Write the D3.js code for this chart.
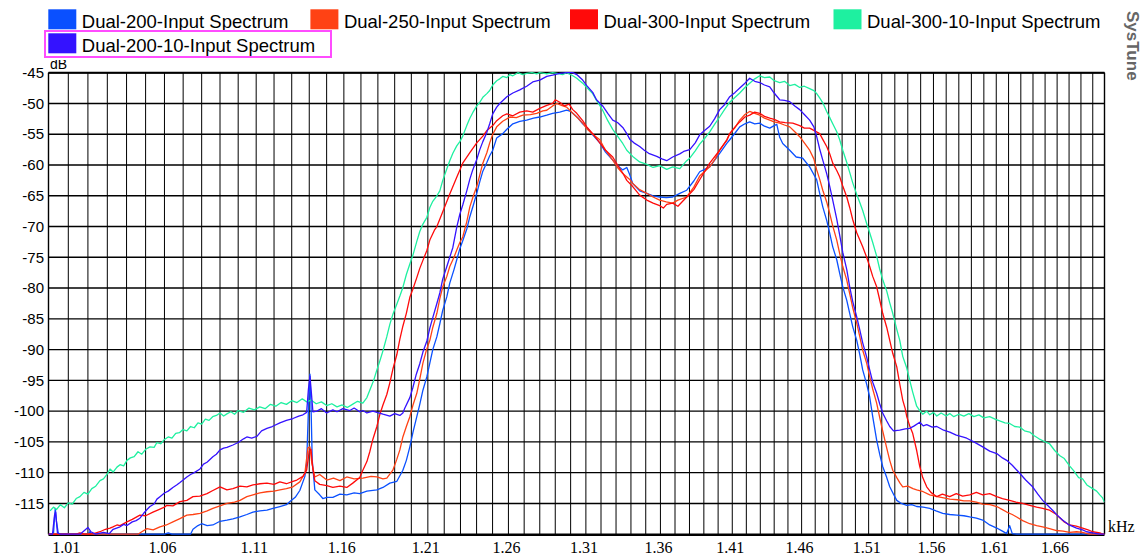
<!DOCTYPE html>
<html><head><meta charset="utf-8">
<script src="https://cdn.jsdelivr.net/npm/d3@7"></script>
<style>body{margin:0;background:#fff}svg{display:block}</style>
</head><body>
<svg id="chart" width="1145" height="557"></svg>
<script>
const seriesNames = ["Dual-200-Input Spectrum","Dual-250-Input Spectrum","Dual-300-Input Spectrum","Dual-300-10-Input Spectrum","Dual-200-10-Input Spectrum"];
const seriesColors = ["#0a50ff","#ff4214","#ff0a0a","#1ef0a0","#3412ff"];

const dual200 = [[1.0000,-120.5],[1.0025,-120.2],[1.0030,-117.5],[1.0034,-115.8],[1.0040,-117.9],[1.0050,-120.3],[1.0100,-120.5],[1.0200,-120.4],[1.0210,-119.6],[1.0220,-120.3],[1.0600,-120.5],[1.0620,-119.8],[1.0640,-120.3],[1.0740,-120.4],[1.0753,-119.2],[1.0780,-118.6],[1.0800,-118.3],[1.0830,-118.6],[1.0861,-118.5],[1.0900,-117.9],[1.0938,-117.7],[1.0971,-117.5],[1.1010,-117.2],[1.1048,-116.8],[1.1082,-116.4],[1.1121,-116.2],[1.1160,-116.1],[1.1194,-115.8],[1.1233,-115.5],[1.1270,-115.2],[1.1290,-114.7],[1.1320,-114.0],[1.1346,-112.9],[1.1375,-110.6],[1.1385,-108.5],[1.1395,-100.0],[1.1404,-94.0],[1.1410,-99.0],[1.1417,-108.0],[1.1432,-112.8],[1.1460,-113.6],[1.1478,-114.2],[1.1501,-114.0],[1.1536,-114.0],[1.1577,-113.5],[1.1617,-113.6],[1.1660,-113.3],[1.1693,-113.4],[1.1735,-113.0],[1.1794,-112.8],[1.1830,-112.4],[1.1871,-111.7],[1.1913,-111.4],[1.1949,-109.6],[1.1970,-108.0],[1.1991,-105.8],[1.2010,-103.4],[1.2033,-100.9],[1.2051,-98.9],[1.2070,-96.6],[1.2094,-94.4],[1.2112,-92.2],[1.2130,-90.0],[1.2155,-87.9],[1.2173,-85.8],[1.2191,-83.6],[1.2216,-81.4],[1.2234,-79.2],[1.2260,-77.0],[1.2277,-75.4],[1.2296,-73.6],[1.2314,-72.3],[1.2339,-70.4],[1.2358,-68.4],[1.2380,-66.5],[1.2401,-64.6],[1.2420,-62.7],[1.2439,-61.0],[1.2464,-59.6],[1.2482,-58.5],[1.2501,-57.6],[1.2526,-55.6],[1.2564,-54.9],[1.2590,-54.2],[1.2628,-53.3],[1.2672,-52.9],[1.2716,-52.7],[1.2760,-52.4],[1.2800,-52.2],[1.2845,-51.9],[1.2883,-51.6],[1.2929,-51.4],[1.2974,-51.1],[1.3000,-51.3],[1.3014,-51.6],[1.3050,-52.4],[1.3079,-53.3],[1.3106,-53.9],[1.3145,-55.1],[1.3192,-56.4],[1.3230,-57.9],[1.3278,-59.2],[1.3310,-60.1],[1.3345,-60.8],[1.3372,-60.4],[1.3392,-61.6],[1.3412,-63.0],[1.3459,-64.2],[1.3507,-64.6],[1.3550,-65.0],[1.3595,-65.2],[1.3640,-65.3],[1.3684,-65.2],[1.3733,-64.6],[1.3781,-64.1],[1.3830,-62.6],[1.3871,-61.1],[1.3941,-60.3],[1.4011,-58.1],[1.4061,-56.5],[1.4082,-55.9],[1.4120,-54.8],[1.4153,-53.8],[1.4190,-53.3],[1.4224,-53.0],[1.4260,-53.3],[1.4296,-53.2],[1.4330,-53.7],[1.4368,-54.0],[1.4400,-53.6],[1.4419,-53.4],[1.4440,-55.5],[1.4462,-56.5],[1.4513,-57.6],[1.4560,-58.7],[1.4608,-58.9],[1.4659,-60.3],[1.4711,-62.4],[1.4733,-64.6],[1.4756,-66.8],[1.4785,-69.0],[1.4808,-71.1],[1.4830,-73.3],[1.4860,-75.4],[1.4882,-77.6],[1.4905,-79.8],[1.4935,-82.0],[1.4957,-84.1],[1.4980,-86.3],[1.5010,-88.5],[1.5033,-90.8],[1.5055,-93.3],[1.5085,-95.6],[1.5108,-97.7],[1.5131,-100.9],[1.5161,-104.7],[1.5184,-107.0],[1.5207,-109.0],[1.5238,-110.8],[1.5261,-112.3],[1.5290,-113.5],[1.5315,-114.5],[1.5350,-115.0],[1.5392,-115.3],[1.5430,-115.2],[1.5469,-115.5],[1.5520,-115.6],[1.5571,-115.8],[1.5620,-116.2],[1.5673,-116.6],[1.5728,-116.8],[1.5784,-116.9],[1.5840,-117.0],[1.5887,-117.2],[1.5940,-117.4],[1.5991,-117.7],[1.6047,-118.5],[1.6104,-119.0],[1.6150,-119.5],[1.6185,-119.9],[1.6209,-118.6],[1.6230,-119.9],[1.6266,-120.2],[1.6340,-120.0],[1.6373,-120.4],[1.7000,-120.5]];

const dual250 = [[1.0000,-121],[1.0440,-121],[1.0460,-120.1],[1.0480,-119.6],[1.0507,-119.1],[1.0540,-119.3],[1.0576,-118.8],[1.0610,-118.5],[1.0645,-118.0],[1.0680,-117.5],[1.0720,-116.9],[1.0753,-116.8],[1.0791,-116.6],[1.0830,-116.2],[1.0861,-115.8],[1.0900,-115.4],[1.0938,-115.0],[1.0980,-114.8],[1.1010,-114.5],[1.1048,-113.9],[1.1082,-113.6],[1.1121,-113.3],[1.1160,-113.1],[1.1200,-113.0],[1.1233,-112.8],[1.1270,-112.6],[1.1307,-112.3],[1.1346,-111.5],[1.1375,-110.1],[1.1392,-106.0],[1.1404,-105.8],[1.1415,-108.5],[1.1432,-110.7],[1.1460,-110.3],[1.1501,-111.2],[1.1540,-110.9],[1.1577,-111.3],[1.1617,-110.7],[1.1660,-111.0],[1.1711,-110.9],[1.1760,-110.6],[1.1794,-110.7],[1.1830,-111.0],[1.1853,-110.9],[1.1889,-109.6],[1.1913,-107.8],[1.1931,-106.3],[1.1949,-104.2],[1.1970,-102.5],[1.1991,-100.9],[1.2010,-99.0],[1.2033,-97.1],[1.2051,-94.8],[1.2070,-92.2],[1.2090,-90.2],[1.2112,-88.5],[1.2130,-86.4],[1.2155,-84.1],[1.2173,-81.7],[1.2191,-79.8],[1.2216,-78.1],[1.2234,-76.5],[1.2260,-75.0],[1.2277,-73.8],[1.2296,-72.6],[1.2314,-71.7],[1.2339,-69.2],[1.2358,-66.8],[1.2380,-65.0],[1.2401,-63.5],[1.2420,-61.6],[1.2439,-59.7],[1.2464,-58.0],[1.2482,-56.4],[1.2501,-55.0],[1.2526,-53.8],[1.2564,-52.9],[1.2609,-52.2],[1.2650,-52.3],[1.2691,-51.9],[1.2740,-51.8],[1.2780,-51.6],[1.2820,-51.2],[1.2845,-51.1],[1.2883,-50.4],[1.2910,-50.0],[1.2940,-50.3],[1.2974,-50.6],[1.3014,-51.6],[1.3040,-52.2],[1.3079,-53.2],[1.3106,-54.1],[1.3145,-55.0],[1.3192,-55.9],[1.3230,-57.6],[1.3278,-59.2],[1.3310,-60.4],[1.3345,-61.4],[1.3390,-62.3],[1.3412,-63.0],[1.3459,-64.0],[1.3507,-64.6],[1.3550,-65.2],[1.3595,-65.7],[1.3640,-66.0],[1.3684,-66.2],[1.3720,-65.7],[1.3781,-65.2],[1.3830,-63.6],[1.3871,-61.8],[1.3941,-60.3],[1.3980,-59.0],[1.4011,-57.6],[1.4061,-55.9],[1.4082,-54.9],[1.4120,-53.9],[1.4153,-52.7],[1.4190,-51.8],[1.4224,-51.3],[1.4260,-51.6],[1.4296,-51.9],[1.4330,-52.4],[1.4368,-52.7],[1.4400,-53.0],[1.4440,-53.2],[1.4475,-53.5],[1.4513,-53.8],[1.4550,-54.6],[1.4586,-55.4],[1.4620,-56.4],[1.4659,-57.6],[1.4690,-59.0],[1.4711,-60.8],[1.4733,-62.3],[1.4756,-64.1],[1.4785,-66.0],[1.4808,-67.9],[1.4830,-69.9],[1.4860,-72.2],[1.4882,-74.4],[1.4905,-76.5],[1.4935,-78.7],[1.4957,-80.9],[1.4980,-83.2],[1.5010,-85.7],[1.5033,-87.9],[1.5055,-90.1],[1.5085,-92.2],[1.5108,-94.4],[1.5131,-96.4],[1.5161,-98.7],[1.5184,-101.0],[1.5207,-103.2],[1.5238,-106.0],[1.5261,-108.0],[1.5284,-109.6],[1.5315,-110.8],[1.5340,-111.7],[1.5361,-112.3],[1.5400,-112.2],[1.5440,-112.6],[1.5469,-112.8],[1.5520,-113.1],[1.5571,-113.6],[1.5630,-113.9],[1.5680,-114.1],[1.5728,-114.3],[1.5790,-114.4],[1.5840,-114.6],[1.5887,-114.6],[1.5940,-114.8],[1.5991,-115.1],[1.6050,-115.2],[1.6104,-115.5],[1.6150,-116.0],[1.6185,-116.4],[1.6230,-116.8],[1.6266,-117.2],[1.6315,-117.8],[1.6373,-118.3],[1.6430,-118.6],[1.6480,-118.8],[1.6537,-119.1],[1.6595,-119.4],[1.6650,-119.5],[1.6704,-119.7],[1.6763,-119.6],[1.6814,-119.7],[1.6870,-120.5],[1.7000,-121]];

const dual300 = [[1.0000,-121],[1.0100,-121],[1.0140,-120.3],[1.0159,-119.8],[1.0180,-120.2],[1.0200,-120.4],[1.0230,-119.9],[1.0262,-119.6],[1.0290,-119.2],[1.0314,-119.0],[1.0329,-118.8],[1.0350,-118.5],[1.0366,-118.6],[1.0402,-118.0],[1.0430,-117.6],[1.0470,-116.9],[1.0500,-117.0],[1.0539,-116.4],[1.0570,-116.0],[1.0600,-115.6],[1.0613,-115.3],[1.0645,-115.4],[1.0683,-114.7],[1.0720,-114.5],[1.0753,-113.9],[1.0790,-113.8],[1.0829,-113.4],[1.0861,-112.9],[1.0900,-112.3],[1.0938,-112.8],[1.0971,-112.6],[1.1010,-112.2],[1.1048,-112.3],[1.1082,-112.0],[1.1121,-111.8],[1.1160,-111.7],[1.1200,-111.9],[1.1233,-111.5],[1.1270,-111.8],[1.1307,-111.4],[1.1329,-111.2],[1.1364,-110.6],[1.1385,-109.6],[1.1400,-106.5],[1.1410,-106.2],[1.1421,-109.5],[1.1432,-111.3],[1.1460,-111.9],[1.1501,-112.1],[1.1536,-112.4],[1.1577,-112.2],[1.1617,-112.4],[1.1652,-111.7],[1.1693,-110.8],[1.1711,-109.6],[1.1735,-108.2],[1.1752,-106.6],[1.1770,-104.6],[1.1794,-102.5],[1.1812,-100.5],[1.1830,-99.0],[1.1853,-97.3],[1.1871,-95.4],[1.1889,-93.2],[1.1913,-90.8],[1.1931,-88.3],[1.1949,-86.2],[1.1970,-84.1],[1.1991,-81.5],[1.2009,-80.2],[1.2033,-78.3],[1.2051,-76.8],[1.2070,-75.5],[1.2094,-73.9],[1.2112,-72.2],[1.2140,-70.6],[1.2155,-70.0],[1.2191,-67.6],[1.2234,-64.7],[1.2277,-62.0],[1.2314,-59.7],[1.2358,-58.0],[1.2401,-56.4],[1.2439,-55.3],[1.2464,-54.4],[1.2501,-53.6],[1.2526,-52.8],[1.2564,-52.0],[1.2590,-51.7],[1.2628,-52.0],[1.2672,-51.4],[1.2716,-51.2],[1.2755,-51.4],[1.2800,-50.8],[1.2845,-50.3],[1.2883,-50.0],[1.2900,-49.4],[1.2929,-49.8],[1.2960,-50.4],[1.2990,-50.1],[1.3014,-51.0],[1.3040,-51.6],[1.3079,-52.8],[1.3106,-53.8],[1.3145,-54.9],[1.3192,-56.4],[1.3230,-57.6],[1.3278,-58.7],[1.3310,-60.0],[1.3345,-61.3],[1.3372,-62.5],[1.3412,-63.5],[1.3459,-64.9],[1.3507,-65.7],[1.3550,-66.2],[1.3595,-66.6],[1.3620,-67.0],[1.3643,-66.4],[1.3684,-66.2],[1.3720,-66.7],[1.3781,-65.2],[1.3830,-64.0],[1.3871,-62.4],[1.3941,-59.7],[1.4011,-57.6],[1.4061,-56.0],[1.4082,-54.9],[1.4120,-53.8],[1.4153,-53.0],[1.4190,-52.2],[1.4224,-51.9],[1.4260,-51.4],[1.4296,-51.6],[1.4330,-52.1],[1.4368,-52.4],[1.4400,-52.6],[1.4440,-53.0],[1.4480,-53.1],[1.4535,-53.2],[1.4586,-53.6],[1.4620,-54.0],[1.4659,-54.0],[1.4700,-54.5],[1.4733,-54.9],[1.4760,-56.0],[1.4785,-57.0],[1.4808,-58.2],[1.4830,-59.7],[1.4860,-60.9],[1.4882,-61.9],[1.4905,-63.4],[1.4935,-65.2],[1.4957,-66.9],[1.4980,-68.9],[1.5010,-71.0],[1.5055,-73.3],[1.5085,-75.0],[1.5108,-76.5],[1.5131,-78.1],[1.5161,-79.8],[1.5184,-81.9],[1.5207,-84.1],[1.5238,-86.4],[1.5261,-88.5],[1.5284,-90.6],[1.5315,-92.8],[1.5338,-95.6],[1.5361,-98.2],[1.5380,-99.6],[1.5392,-100.9],[1.5415,-102.4],[1.5438,-103.6],[1.5469,-106.4],[1.5493,-109.0],[1.5516,-110.8],[1.5547,-112.3],[1.5580,-113.2],[1.5626,-113.9],[1.5670,-113.5],[1.5728,-113.9],[1.5780,-113.4],[1.5830,-113.8],[1.5887,-113.6],[1.5940,-113.2],[1.5991,-113.6],[1.6047,-113.4],[1.6104,-113.9],[1.6150,-114.2],[1.6209,-114.5],[1.6260,-114.8],[1.6315,-115.0],[1.6373,-115.3],[1.6430,-115.6],[1.6480,-115.8],[1.6537,-116.1],[1.6595,-116.8],[1.6620,-117.3],[1.6660,-118.0],[1.6704,-118.5],[1.6760,-118.7],[1.6814,-119.0],[1.6860,-119.3],[1.6899,-119.6],[1.6960,-119.8],[1.6984,-120.0],[1.7000,-120.3]];

const dual30010 = [[1.0008,-116.2],[1.0025,-115.6],[1.0040,-116.0],[1.0060,-115.2],[1.0080,-115.7],[1.0100,-114.9],[1.0120,-115.1],[1.0140,-114.2],[1.0159,-113.9],[1.0180,-113.2],[1.0200,-113.5],[1.0220,-112.6],[1.0240,-112.2],[1.0262,-111.3],[1.0280,-111.0],[1.0300,-110.2],[1.0314,-109.4],[1.0330,-109.9],[1.0350,-109.1],[1.0366,-108.7],[1.0385,-108.9],[1.0402,-108.0],[1.0420,-107.6],[1.0440,-107.4],[1.0460,-106.6],[1.0480,-107.0],[1.0500,-106.2],[1.0523,-105.8],[1.0545,-105.9],[1.0560,-105.1],[1.0580,-105.3],[1.0600,-104.6],[1.0620,-104.2],[1.0640,-104.4],[1.0660,-103.6],[1.0680,-103.5],[1.0699,-103.0],[1.0720,-103.2],[1.0740,-102.5],[1.0760,-102.7],[1.0780,-101.9],[1.0800,-102.1],[1.0820,-101.3],[1.0840,-101.5],[1.0860,-100.9],[1.0880,-100.7],[1.0900,-100.3],[1.0920,-100.8],[1.0940,-100.4],[1.0960,-100.1],[1.0980,-100.5],[1.1000,-99.9],[1.1030,-100.2],[1.1060,-99.5],[1.1090,-99.8],[1.1120,-99.3],[1.1150,-99.6],[1.1180,-98.9],[1.1210,-99.2],[1.1240,-98.6],[1.1270,-98.9],[1.1300,-98.3],[1.1330,-98.6],[1.1360,-98.0],[1.1385,-98.5],[1.1410,-98.2],[1.1440,-98.8],[1.1470,-98.5],[1.1500,-99.1],[1.1530,-98.8],[1.1560,-99.3],[1.1590,-99.0],[1.1620,-99.4],[1.1650,-98.9],[1.1680,-98.4],[1.1711,-98.7],[1.1735,-97.8],[1.1752,-96.6],[1.1775,-95.0],[1.1794,-93.3],[1.1812,-91.8],[1.1830,-90.2],[1.1853,-87.9],[1.1871,-85.9],[1.1890,-84.2],[1.1913,-82.6],[1.1931,-81.3],[1.1949,-79.9],[1.1970,-77.8],[1.1991,-76.1],[1.2010,-74.6],[1.2033,-72.4],[1.2051,-70.8],[1.2070,-69.6],[1.2094,-68.5],[1.2112,-66.9],[1.2130,-65.9],[1.2155,-65.0],[1.2173,-64.2],[1.2191,-62.5],[1.2216,-60.6],[1.2234,-59.3],[1.2253,-58.1],[1.2277,-56.9],[1.2296,-56.2],[1.2314,-55.3],[1.2339,-53.6],[1.2358,-52.4],[1.2376,-51.5],[1.2401,-50.4],[1.2420,-49.8],[1.2439,-49.0],[1.2464,-48.4],[1.2482,-47.9],[1.2501,-47.0],[1.2526,-46.3],[1.2545,-46.0],[1.2564,-45.6],[1.2590,-45.8],[1.2609,-45.3],[1.2628,-45.5],[1.2660,-45.0],[1.2691,-45.3],[1.2716,-45.1],[1.2750,-44.7],[1.2780,-45.2],[1.2800,-45.0],[1.2845,-45.2],[1.2883,-44.9],[1.2910,-45.1],[1.2948,-45.3],[1.2974,-45.0],[1.3014,-45.5],[1.3040,-45.9],[1.3079,-46.7],[1.3106,-47.4],[1.3145,-48.4],[1.3170,-49.5],[1.3192,-50.3],[1.3211,-51.1],[1.3245,-52.8],[1.3278,-54.2],[1.3310,-55.3],[1.3345,-56.5],[1.3372,-57.6],[1.3412,-58.6],[1.3459,-59.5],[1.3507,-59.9],[1.3550,-60.4],[1.3595,-60.1],[1.3643,-60.7],[1.3684,-60.3],[1.3733,-60.6],[1.3781,-59.3],[1.3802,-58.9],[1.3840,-57.7],[1.3871,-56.6],[1.3905,-55.7],[1.3941,-54.6],[1.3975,-53.4],[1.4011,-52.2],[1.4045,-51.0],[1.4082,-49.8],[1.4120,-49.0],[1.4153,-48.3],[1.4190,-47.4],[1.4224,-46.7],[1.4260,-46.0],[1.4296,-45.5],[1.4330,-45.8],[1.4368,-45.7],[1.4400,-46.3],[1.4440,-46.6],[1.4475,-46.4],[1.4513,-47.1],[1.4550,-46.9],[1.4586,-47.4],[1.4620,-47.2],[1.4659,-47.6],[1.4690,-47.9],[1.4711,-48.4],[1.4733,-49.1],[1.4756,-49.9],[1.4785,-51.3],[1.4808,-52.3],[1.4830,-53.3],[1.4860,-54.6],[1.4882,-55.9],[1.4905,-57.6],[1.4935,-59.6],[1.4957,-61.2],[1.4980,-62.9],[1.5010,-64.8],[1.5033,-66.1],[1.5055,-67.4],[1.5085,-69.5],[1.5108,-71.0],[1.5131,-72.6],[1.5161,-74.8],[1.5184,-76.9],[1.5207,-78.6],[1.5238,-80.5],[1.5261,-82.4],[1.5284,-84.1],[1.5315,-86.7],[1.5338,-88.5],[1.5361,-91.1],[1.5392,-93.0],[1.5415,-95.0],[1.5438,-96.9],[1.5469,-99.2],[1.5493,-99.9],[1.5516,-100.5],[1.5547,-100.0],[1.5571,-100.6],[1.5600,-100.2],[1.5626,-100.8],[1.5660,-100.3],[1.5700,-100.8],[1.5728,-100.4],[1.5760,-100.9],[1.5800,-100.5],[1.5840,-100.8],[1.5880,-100.4],[1.5920,-100.9],[1.5960,-100.6],[1.6000,-101.1],[1.6047,-100.9],[1.6090,-101.3],[1.6128,-101.6],[1.6170,-101.9],[1.6209,-102.0],[1.6250,-102.5],[1.6291,-102.6],[1.6330,-103.2],[1.6373,-103.4],[1.6410,-104.0],[1.6450,-104.5],[1.6490,-104.9],[1.6537,-105.3],[1.6580,-106.4],[1.6620,-107.2],[1.6660,-107.7],[1.6704,-108.9],[1.6740,-109.7],[1.6780,-110.8],[1.6814,-111.0],[1.6850,-112.0],[1.6899,-112.6],[1.6933,-113.0],[1.6960,-113.6],[1.6984,-114.1],[1.7000,-114.8]];

const dual20010 = [[1.0000,-120.5],[1.0020,-120.2],[1.0030,-117.0],[1.0036,-116.4],[1.0045,-119.8],[1.0060,-120.3],[1.0100,-120.4],[1.0140,-120.0],[1.0160,-120.4],[1.0200,-118.9],[1.0215,-119.6],[1.0240,-120.1],[1.0280,-119.7],[1.0310,-119.9],[1.0330,-119.2],[1.0366,-118.8],[1.0385,-118.4],[1.0402,-118.6],[1.0430,-118.0],[1.0450,-117.8],[1.0470,-117.4],[1.0490,-116.6],[1.0510,-115.9],[1.0523,-115.5],[1.0545,-115.1],[1.0560,-114.3],[1.0576,-113.9],[1.0600,-113.3],[1.0620,-113.0],[1.0645,-112.4],[1.0665,-112.0],[1.0683,-111.6],[1.0700,-111.2],[1.0720,-110.7],[1.0740,-110.3],[1.0760,-110.0],[1.0791,-109.4],[1.0810,-108.6],[1.0829,-108.3],[1.0861,-107.4],[1.0880,-107.0],[1.0900,-106.3],[1.0920,-106.0],[1.0938,-105.9],[1.0971,-105.5],[1.1000,-105.1],[1.1030,-104.5],[1.1048,-104.2],[1.1075,-104.4],[1.1104,-104.1],[1.1130,-103.2],[1.1160,-102.8],[1.1190,-102.5],[1.1233,-101.9],[1.1270,-101.5],[1.1307,-101.2],[1.1340,-100.8],[1.1364,-100.6],[1.1385,-100.2],[1.1395,-96.5],[1.1404,-94.3],[1.1412,-97.0],[1.1421,-100.1],[1.1444,-100.0],[1.1470,-99.6],[1.1500,-100.3],[1.1536,-99.8],[1.1560,-100.1],[1.1594,-99.6],[1.1635,-99.9],[1.1660,-99.5],[1.1693,-100.1],[1.1711,-99.9],[1.1735,-100.3],[1.1770,-100.0],[1.1794,-100.2],[1.1830,-100.5],[1.1871,-100.8],[1.1900,-100.4],[1.1931,-100.7],[1.1949,-100.3],[1.1961,-99.5],[1.1991,-97.8],[1.2009,-96.2],[1.2030,-94.0],[1.2051,-92.3],[1.2070,-90.4],[1.2094,-88.6],[1.2112,-86.5],[1.2130,-84.8],[1.2155,-82.5],[1.2173,-80.8],[1.2191,-78.5],[1.2216,-76.5],[1.2234,-75.0],[1.2253,-73.4],[1.2277,-70.1],[1.2296,-68.0],[1.2314,-66.5],[1.2339,-64.2],[1.2358,-62.3],[1.2376,-60.8],[1.2401,-59.1],[1.2420,-57.5],[1.2439,-56.2],[1.2464,-54.7],[1.2482,-53.3],[1.2501,-51.7],[1.2526,-50.6],[1.2545,-50.0],[1.2590,-48.9],[1.2628,-48.3],[1.2672,-47.8],[1.2716,-47.2],[1.2755,-46.5],[1.2800,-46.2],[1.2845,-45.6],[1.2883,-45.4],[1.2929,-45.1],[1.2974,-44.9],[1.3014,-45.0],[1.3040,-45.3],[1.3079,-46.2],[1.3106,-47.1],[1.3145,-48.2],[1.3170,-49.4],[1.3211,-50.4],[1.3245,-51.6],[1.3278,-52.7],[1.3310,-53.1],[1.3345,-53.9],[1.3372,-54.9],[1.3392,-55.8],[1.3420,-56.4],[1.3459,-57.0],[1.3490,-57.6],[1.3520,-58.1],[1.3575,-58.6],[1.3610,-59.0],[1.3643,-59.3],[1.3684,-58.7],[1.3733,-58.2],[1.3760,-57.8],[1.3802,-57.5],[1.3840,-56.4],[1.3871,-55.1],[1.3905,-54.4],[1.3941,-53.7],[1.3975,-52.5],[1.4011,-51.0],[1.4045,-50.2],[1.4082,-48.9],[1.4120,-48.2],[1.4153,-47.5],[1.4190,-46.7],[1.4224,-45.9],[1.4260,-46.4],[1.4296,-46.6],[1.4330,-47.0],[1.4368,-47.3],[1.4400,-48.3],[1.4440,-49.4],[1.4475,-49.5],[1.4513,-49.7],[1.4550,-50.4],[1.4586,-51.0],[1.4620,-51.8],[1.4659,-52.7],[1.4690,-53.8],[1.4711,-55.4],[1.4733,-57.4],[1.4756,-59.2],[1.4785,-61.4],[1.4808,-63.5],[1.4830,-65.7],[1.4860,-68.8],[1.4882,-71.4],[1.4905,-74.2],[1.4935,-77.0],[1.4957,-79.8],[1.4980,-82.2],[1.5010,-84.7],[1.5033,-86.8],[1.5055,-88.9],[1.5085,-91.2],[1.5108,-93.3],[1.5131,-95.3],[1.5161,-97.1],[1.5184,-98.8],[1.5207,-100.3],[1.5238,-101.6],[1.5261,-102.5],[1.5290,-103.2],[1.5338,-103.1],[1.5380,-102.9],[1.5415,-102.8],[1.5450,-102.4],[1.5493,-101.8],[1.5520,-102.4],[1.5547,-102.2],[1.5590,-102.6],[1.5626,-102.5],[1.5680,-103.1],[1.5728,-103.4],[1.5780,-103.9],[1.5830,-104.2],[1.5863,-104.4],[1.5920,-105.0],[1.5991,-105.8],[1.6047,-106.5],[1.6104,-106.9],[1.6150,-107.6],[1.6185,-108.0],[1.6230,-108.8],[1.6291,-110.1],[1.6340,-111.2],[1.6397,-112.3],[1.6440,-113.5],[1.6480,-114.5],[1.6520,-115.3],[1.6562,-116.1],[1.6600,-116.9],[1.6645,-117.7],[1.6700,-118.5],[1.6763,-119.0],[1.6814,-119.3],[1.6848,-119.6],[1.6900,-119.8],[1.6933,-119.9],[1.6960,-120.4],[1.7000,-120.5]];

const xTickValues = [1.01,1.06,1.11,1.16,1.21,1.26,1.31,1.36,1.41,1.46,1.51,1.56,1.61,1.66];
const xTickLabels = ["1.01","1.06","1.11","1.16","1.21","1.26","1.31","1.36","1.41","1.46","1.51","1.56","1.61","1.66"];
const yTickValues = [-45,-50,-55,-60,-65,-70,-75,-80,-85,-90,-95,-100,-105,-110,-115];
const yTickLabels = ["-45","-50","-55","-60","-65","-70","-75","-80","-85","-90","-95","-100","-105","-110","-115"];

const allSeries = [dual200, dual250, dual300, dual30010, dual20010];

const svg = d3.select("#chart");
const L = 48.5, R = 1104.5, T = 72.7, B = 534.2;
const x = d3.scaleLog().domain([1.0, 1.7]).range([L, R]);
const y = d3.scaleLinear().domain([-120, -45]).range([B, T]).clamp(true);

svg.append("rect").attr("width",1145).attr("height",557).attr("fill","#fff");

// dB label (partially hidden by legend band)
svg.append("text").attr("x", 50).attr("y", 69).attr("font-family","Liberation Sans, Arial, sans-serif")
  .attr("font-size", 14).attr("fill","#000").text("dB");

// vertical grid (every 0.01 kHz)
const vGrid = d3.range(1.01, 1.6951, 0.01);
svg.append("g").selectAll("line").data(vGrid).join("line")
  .attr("x1", d => x(d)).attr("x2", d => x(d)).attr("y1", T).attr("y2", B)
  .attr("stroke", "#000").attr("stroke-width", 1);

// horizontal grid
svg.append("g").selectAll("line").data(yTickValues).join("line")
  .attr("x1", L).attr("x2", R).attr("y1", d => y(d)).attr("y2", d => y(d))
  .attr("stroke", "#000").attr("stroke-width", 1.4);

// frame
svg.append("line").attr("x1",L).attr("x2",L).attr("y1",T).attr("y2",B).attr("stroke","#000").attr("stroke-width",1.4);
svg.append("line").attr("x1",R).attr("x2",R).attr("y1",T).attr("y2",B).attr("stroke","#000").attr("stroke-width",1.4);
svg.append("line").attr("x1",L).attr("x2",R).attr("y1",T).attr("y2",T).attr("stroke","#000").attr("stroke-width",2);
svg.append("line").attr("x1",L).attr("x2",R).attr("y1",B+0.5).attr("y2",B+0.5).attr("stroke","#000").attr("stroke-width",2.6);

// series
svg.append("clipPath").attr("id","plotclip").append("rect")
  .attr("x", L).attr("y", T - 1).attr("width", R - L).attr("height", B - T + 3);
const line = d3.line().x(d => x(d[0])).y(d => y(d[1]));
svg.append("g").attr("clip-path","url(#plotclip)").selectAll("path").data(allSeries).join("path")
  .attr("d", line).attr("fill","none")
  .attr("stroke", (d,i) => seriesColors[i]).attr("stroke-width", 1.3)
  .attr("stroke-linejoin","round");

// x tick labels
svg.append("g").selectAll("text").data(xTickValues).join("text")
  .attr("x", d => x(d) - 2).attr("y", 553).attr("text-anchor","middle")
  .attr("font-family","Liberation Serif, Times New Roman, serif").attr("font-size", 16).attr("fill","#000")
  .text((d,i) => xTickLabels[i]);

// y tick labels
svg.append("g").selectAll("text").data(yTickValues).join("text")
  .attr("x", 44).attr("y", d => y(d) + 5.2).attr("text-anchor","end")
  .attr("font-family","Liberation Sans, Arial, sans-serif").attr("font-size", 15).attr("fill","#000")
  .text((d,i) => yTickLabels[i]);

// axis unit
svg.append("text").attr("x", 1108).attr("y", 532).attr("font-family","Liberation Serif, Times New Roman, serif")
  .attr("font-size", 16).attr("fill","#000").text("kHz");

// legend band
svg.append("rect").attr("x",0).attr("y",0).attr("width",1110).attr("height",60).attr("fill","#fff");
const legendPos = [[48.3,9.3],[310.4,9.3],[570,9.3],[833.5,9.3],[48.3,33.3]];
const lg = svg.append("g").selectAll("g").data(seriesNames).join("g")
  .attr("transform", (d,i) => `translate(${legendPos[i][0]},${legendPos[i][1]})`);
lg.append("rect").attr("width", 28).attr("height", 20).attr("fill", (d,i) => seriesColors[i]);
lg.append("text").attr("x", 33.5).attr("y", 18.3)
  .attr("font-family","Liberation Sans, Arial, sans-serif").attr("font-size", 18.5).attr("fill","#000")
  .text(d => d);
svg.append("rect").attr("x", 45).attr("y", 31).attr("width", 286).attr("height", 26)
  .attr("fill","none").attr("stroke","#ff4cff").attr("stroke-width", 2);

// brand
svg.append("text").attr("transform","translate(1127,11) rotate(90)")
  .attr("font-family","Liberation Sans, Arial, sans-serif").attr("font-weight","bold")
  .attr("font-size", 17).attr("fill","#666").text("SysTune");
</script>
</body></html>
